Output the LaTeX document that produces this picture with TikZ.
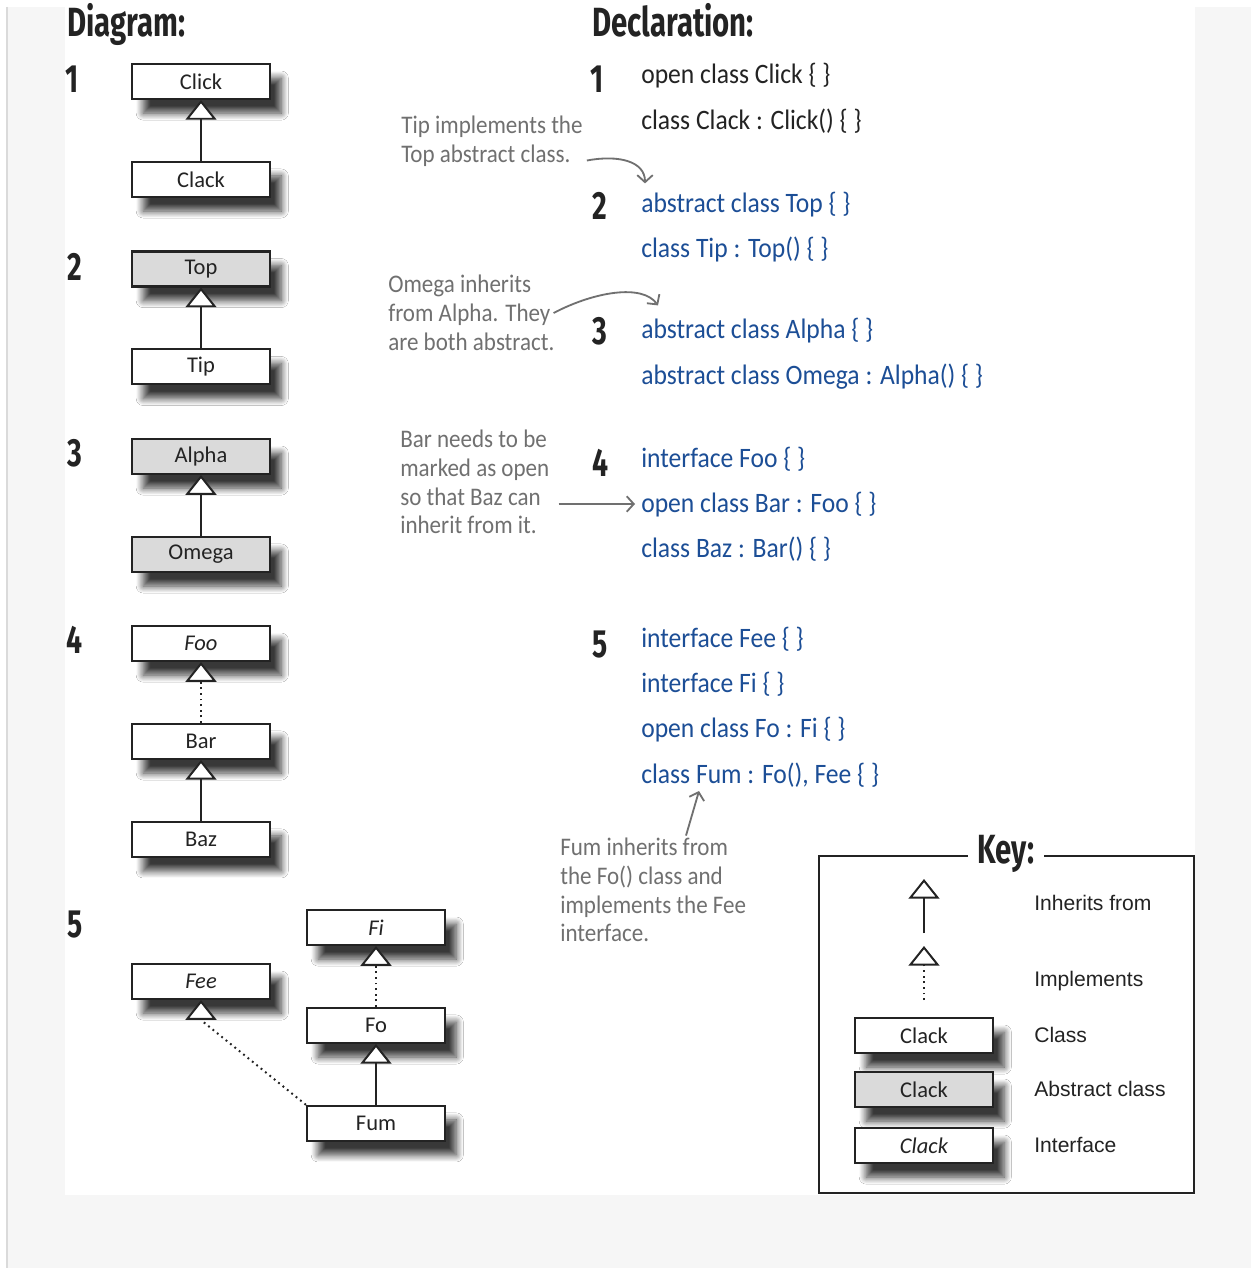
\documentclass[tikz,border=0pt]{standalone}
\usepackage{fontspec}
\setmainfont{Carlito}
\newfontfamily\boxfont{Carlito}
\newfontfamily\handfont[FakeStretch=0.91]{Carlito}
\newfontfamily\markerfont[FakeStretch=0.72]{Fira Sans}
\newfontfamily\keyfont{Liberation Sans}
\usetikzlibrary{positioning,arrows.meta,calc,shadows.blur}
\definecolor{InkBlack}{RGB}{35,35,35}
\definecolor{CodeBlue}{RGB}{28,78,150}
\definecolor{NoteGrey}{RGB}{112,112,112}
\definecolor{AbstractFill}{RGB}{218,218,218}
\definecolor{PageGrey}{RGB}{246,246,246}
\definecolor{EdgeGrey}{RGB}{218,218,218}
\tikzset{
  cls/.style={draw=InkBlack,line width=1.5pt,fill=white,text=InkBlack,
    minimum width=3.45cm,minimum height=0.875cm,inner sep=0pt,
    font=\boxfont\fontsize{16}{18}\selectfont,
    blur shadow={shadow xshift=8pt,shadow yshift=-10pt,shadow blur radius=5pt,
      shadow blur steps=12,shadow opacity=78}},
  abscls/.style={cls,fill=AbstractFill},
  ifacecls/.style={cls,font=\boxfont\itshape\fontsize{16}{18}\selectfont},
  inherit/.style={-{Triangle[length=14pt,width=22pt,fill=white,line width=1.4pt]},
    line width=1.4pt,draw=InkBlack},
  realize/.style={inherit,dash pattern=on 1.3pt off 2.7pt},
  heading/.style={anchor=base west,inner sep=0pt,text=InkBlack,
    font=\markerfont\bfseries\fontsize{29}{31}\selectfont},
  num/.style={inner sep=0pt,text=InkBlack,
    font=\markerfont\bfseries\fontsize{28}{30}\selectfont},
  decl/.style={anchor=base west,inner sep=0pt,text=CodeBlue,
    font=\handfont\fontsize{20}{22}\selectfont},
  plaindecl/.style={decl,text=InkBlack},
  note/.style={anchor=west,align=left,inner sep=0pt,text=NoteGrey,
    font=\handfont\fontsize{18}{20.5}\selectfont},
  noteflow/.style={-{Straight Barb[length=5pt,width=11pt]},line width=1.3pt,draw=NoteGrey},
  keylabel/.style={anchor=west,inner sep=0pt,text=InkBlack,
    font=\keyfont\fontsize{15}{17}\selectfont}
}
\begin{document}
\begin{tikzpicture}[x=0.025cm,y=-0.025cm]
  \useasboundingbox (0,0) rectangle (1251,1268);
  % page
  \fill[PageGrey] (7,7) rectangle (1251,1268);
  \draw[EdgeGrey,line width=1.4pt] (7,7) -- (7,1268);
  \fill[white] (65,0) rectangle (1195,1195);

  % headings and numbers
  \node[heading] (diaghead) at (67,37) {Diagram:};
  \node[heading] (declhead) at (592,37) {Declaration:};
  \node[num] (d1) at (72,79) {1};
  \node[num] (d2) at (75,267) {2};
  \node[num] (d3) at (75,453) {3};
  \node[num] (d4) at (75,640) {4};
  \node[num] (d5) at (75,925) {5};
  \node[num] (c1) at (597,79) {1};
  \node[num] (c2) at (600,206) {2};
  \node[num] (c3) at (600,331) {3};
  \node[num] (c4) at (600,463) {4};
  \node[num] (c5) at (600,645) {5};

  % diagrams
  \node[cls] (click) at (201,81.5) {Click};
  \node[cls,below=1.52cm of click] (clack) {Clack};
  \draw[inherit] (clack) -- (click);

  \node[abscls] (top) at (201,269) {Top};
  \node[cls,below=1.52cm of top] (tip) {Tip};
  \draw[inherit] (tip) -- (top);

  \node[abscls] (alpha) at (201,456.5) {Alpha};
  \node[abscls,below=1.52cm of alpha] (omega) {Omega};
  \draw[inherit] (omega) -- (alpha);

  \node[ifacecls] (foo) at (201,643.5) {Foo};
  \node[cls,below=1.52cm of foo] (bar) {Bar};
  \node[cls,below=1.52cm of bar] (baz) {Baz};
  \draw[realize] (bar) -- (foo);
  \draw[inherit] (baz) -- (bar);

  \node[ifacecls] (fee) at (201,981.5) {Fee};
  \node[ifacecls] (fi) at (376,927.5) {Fi};
  \node[cls,below=1.52cm of fi] (fo) {Fo};
  \node[cls,below=1.52cm of fo] (fum) {Fum};
  \draw[realize] (fo) -- (fi);
  \draw[inherit] (fum) -- (fo);
  \draw[realize] (fum.north west) -- ($(fee.south)+(0,20)$) -- (fee.south);

  % declarations
  \node[plaindecl] (clickdecl) at (641,83) {open class Click \{ \}};
  \node[plaindecl] (clackdecl) at (641,129) {class Clack : Click() \{ \}};
  \node[decl] (topdecl) at (641,212) {abstract class Top \{ \}};
  \node[decl] (tipdecl) at (641,257) {class Tip : Top() \{ \}};
  \node[decl] (alphadecl) at (641,338) {abstract class Alpha \{ \}};
  \node[decl] (omegadecl) at (641,384) {abstract class Omega : Alpha() \{ \}};
  \node[decl] (foodecl) at (641,467) {interface Foo \{ \}};
  \node[decl] (bardecl) at (641,512) {open class Bar : Foo \{ \}};
  \node[decl] (bazdecl) at (641,557) {class Baz : Bar() \{ \}};
  \node[decl] (feedecl) at (641,647) {interface Fee \{ \}};
  \node[decl] (fidecl) at (641,692) {interface Fi \{ \}};
  \node[decl] (fodecl) at (641,737) {open class Fo : Fi \{ \}};
  \node[decl] (fumdecl) at (641,783) {class Fum : Fo(), Fee \{ \}};

  % notes
  \node[note] (tipnote) at (401,141) {Tip implements the\\Top abstract class.};
  \node[note] (omeganote) at (388,313) {Omega inherits\\from Alpha. They\\are both abstract.};
  \node[note] (barnote) at (400,482) {Bar needs to be\\marked as open\\so that Baz can\\inherit from it.};
  \node[note] (fumnote) at (560,890) {Fum inherits from\\the Fo() class and\\implements the Fee\\interface.};
  \draw[noteflow] ($(tipnote.south east)+(4,-6)$) .. controls +(32,-6) and +(0,-22) .. ($(topdecl.north west)+(4,-8)$);
  \draw[noteflow] ($(omeganote.east)+(-1,0)$) .. controls +(40,-21) and +(-16,-22) .. ($(alphadecl.north west)+(17,-12)$);
  \draw[noteflow] ($(barnote.east)+(9,22)$) -- ($(bardecl.base west)+(-6,-8)$);
  \draw[noteflow] ($(fumnote.north west)+(126,-2)$) -- ($(fumdecl.base west)+(58,8)$);

  % key
  \draw[draw=InkBlack,line width=1.3pt] (819,856) rectangle (1194,1193);
  \node[heading,anchor=center,fill=white,inner xsep=7pt] (keyhead) at (1006,854) {Key:};
  \coordinate (inhtop) at (924,879);
  \coordinate (inhbot) at (924,933);
  \coordinate (imptop) at (924,946);
  \coordinate (impbot) at (924,1000);
  \draw[inherit] (inhbot) -- (inhtop);
  \draw[realize] (impbot) -- (imptop);
  \node[cls] (keycls) at (924,1035.5) {Clack};
  \node[abscls] (keyabs) at (924,1089.5) {Clack};
  \node[ifacecls] (keyiface) at (924,1145.5) {Clack};
  \node[keylabel] (inhlabel) at (1034,903) {Inherits from};
  \node[keylabel] (implabel) at (1034,981) {Implements};
  \node[keylabel] (clslabel) at (1034,1035) {Class};
  \node[keylabel] (abslabel) at (1034,1089) {Abstract class};
  \node[keylabel] (ifacelabel) at (1034,1145) {Interface};
\end{tikzpicture}
\end{document}
